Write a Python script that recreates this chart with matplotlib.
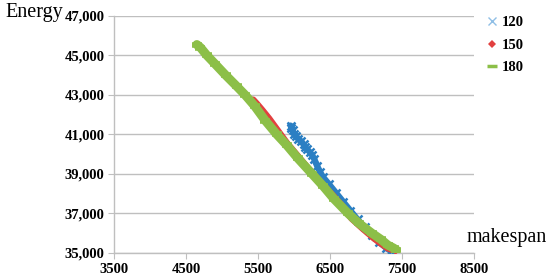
import matplotlib
matplotlib.use("Agg")
import matplotlib.pyplot as plt
from matplotlib.lines import Line2D

# series 120 (blue crosses)
ms_120 = [5950, 5980, 5960, 6000, 6030, 6060, 6100, 6130, 6150, 6180, 6220, 6250,
          6280, 6320, 6360, 6400, 6480, 6580, 6680, 6780, 6880, 6980, 7080, 7180,
          7280, 7340]
en_120 = [41450, 41250, 41350, 41000, 40900, 40750, 40650, 40500, 40350, 40250,
          40100, 39950, 39750, 39400, 39100, 38850, 38500, 38050, 37600, 37150,
          36700, 36300, 35900, 35550, 35250, 35100]

# series 150 (red diamonds)
ms_150 = [5430, 5480, 5550, 5650, 5780, 5900, 6050, 6200, 6350, 6500, 6650, 6800,
          6950, 7100, 7200, 7300, 7400]
en_150 = [42750, 42550, 42250, 41800, 41150, 40550, 39900, 39250, 38650, 38050,
          37450, 36750, 36250, 35780, 35500, 35250, 35120]

# series 180 (green dashes)
ms_180 = [4650, 4700, 4790, 4900, 5050, 5200, 5320, 5450, 5600, 5760, 5900, 6050,
          6250, 6400, 6550, 6750, 6900, 7080, 7200, 7300, 7380, 7420]
en_180 = [45550, 45400, 45000, 44580, 44000, 43450, 43000, 42450, 41700, 41000,
          40450, 39800, 39000, 38400, 37750, 37000, 36500, 36000, 35700, 35400,
          35250, 35150]

x_ticks = [3500, 4500, 5500, 6500, 7500, 8500]
y_ticks = [35000, 37000, 39000, 41000, 43000, 45000, 47000]

blue = "#2b7fc3"
red = "#e2403f"
green = "#8cbf48"
grey = "#bfbfbf"

plt.rcParams["font.family"] = ["Liberation Serif", "DejaVu Serif"]

fig = plt.figure(figsize=(5.5, 2.76), dpi=100)
ax = fig.add_axes([0.2073, 0.0833, 0.655, 0.859])

ax.plot(ms_120, en_120, color=blue, lw=4.5, marker="x", ms=6, mew=1.8,
        solid_capstyle="round", zorder=3)
ax.plot(ms_150, en_150, color=red, lw=5, marker="D", ms=3.5, mew=0,
        solid_capstyle="round", zorder=4)
ax.plot(ms_180, en_180, color=green, lw=6.5, marker="_", ms=7, mew=4,
        solid_capstyle="round", zorder=5)

ax.set_xlim(3500, 8500)
ax.set_ylim(35000, 47000)
ax.set_xticks(x_ticks)
ax.set_yticks(y_ticks)
ax.set_xticklabels([str(v) for v in x_ticks], fontsize=10.5, fontweight="bold")
ax.set_yticklabels([f"{v:,}" for v in y_ticks], fontsize=10.5, fontweight="bold")
ax.tick_params(axis="both", direction="out", length=4, width=0.8, color=grey,
               pad=3)
ax.tick_params(axis="x", pad=3)

ax.grid(axis="y", color=grey, lw=1)
ax.set_axisbelow(True)
for s in ["top", "right"]:
    ax.spines[s].set_visible(False)
for s in ["left", "bottom"]:
    ax.spines[s].set_color(grey)
    ax.spines[s].set_linewidth(1)

fig.text(0.009, 0.953, "Energy", fontsize=14.5, ha="left", va="center")
fig.text(0.848, 0.138, "makespan", fontsize=14.5, ha="left", va="center")

handles = [
    Line2D([], [], ls="none", marker="x", ms=6, mew=1, color="#8fbfe6"),
    Line2D([], [], ls="none", marker="D", ms=4.5, mew=0, color=red),
    Line2D([], [], ls="none", marker="_", ms=7, mew=2.5, color=green),
]
leg = fig.legend(handles, ["120", "150", "180"], loc="upper left",
                 bbox_to_anchor=(0.86, 0.99), frameon=False, handlelength=0.8,
                 handletextpad=0.3, labelspacing=0.65,
                 prop={"size": 10.5, "weight": "bold"})

fig.savefig("out.png", dpi=100)
